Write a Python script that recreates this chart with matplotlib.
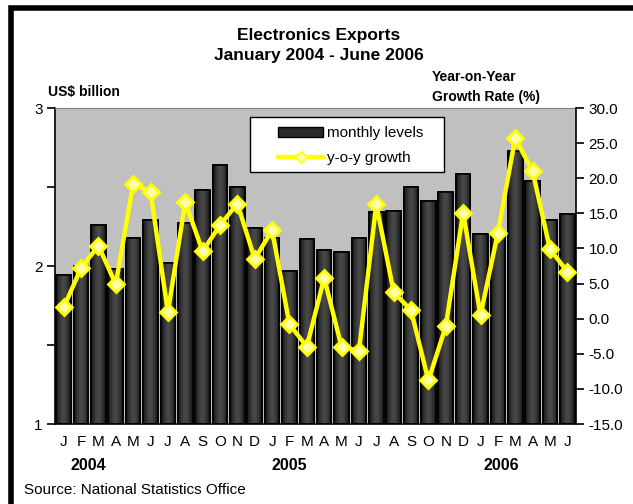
import numpy as np
import matplotlib.pyplot as plt
from matplotlib.lines import Line2D
from matplotlib.patches import Rectangle

plt.rcParams['font.family'] = ['Liberation Sans', 'DejaVu Sans']

# data
months = ['J', 'F', 'M', 'A', 'M', 'J', 'J', 'A', 'S', 'O', 'N', 'D'] * 2 + ['J', 'F', 'M', 'A', 'M', 'J']
years = ['2004', '2005', '2006']
year_pos = [1.4, 13.0, 25.2]
levels = [1.94, 2.00, 2.26, 1.98, 2.18, 2.29, 2.02, 2.27, 2.48, 2.64, 2.50, 2.24,
          2.18, 1.97, 2.17, 2.10, 2.09, 2.18, 2.34, 2.35, 2.50, 2.41, 2.47, 2.58,
          2.20, 2.21, 2.73, 2.54, 2.29, 2.33]
growth = [1.6, 7.2, 10.4, 4.9, 19.2, 18.1, 0.9, 16.6, 9.6, 13.3, 16.4, 8.5,
          12.6, -0.8, -4.0, 5.8, -4.0, -4.6, 16.3, 3.8, 1.2, -8.8, -1.1, 15.1,
          0.5, 12.2, 25.7, 21.0, 9.9, 6.7]

x = np.arange(len(levels))

fig = plt.figure(figsize=(6.33, 5.04), dpi=100)
ax = fig.add_axes([0.0869, 0.1587, 0.8231, 0.627])
ax.set_facecolor('#c0c0c0')

bars = ax.bar(x, np.array(levels) - 1, bottom=1, width=0.84, color='#333333',
              edgecolor='black', linewidth=1.2, zorder=2)

# horizontal shading inside each bar
grad = np.array([[0.10, 0.15, 0.20, 0.24, 0.27, 0.29, 0.27, 0.24, 0.20, 0.15, 0.10]])
for b in bars:
    im = ax.imshow(grad, cmap='gray', vmin=0, vmax=1, aspect='auto',
                   extent=[b.get_x(), b.get_x() + b.get_width(), b.get_y(), b.get_y() + b.get_height()],
                   zorder=2.5, interpolation='bicubic')
    im.set_clip_path(b)
    edge = Rectangle((b.get_x(), b.get_y()), b.get_width(), b.get_height(), fill=False,
                     edgecolor='black', linewidth=1.2, zorder=2.6)
    ax.add_patch(edge)

ax.set_xlim(-0.5, len(levels) - 0.5)
ax.set_ylim(1, 3)
ax.set_yticks([1, 2, 3])
ax.set_yticks([1.5, 2.5], minor=True)
ax.set_xticks(x)
ax.set_xticklabels(months, fontsize=11)
ax.tick_params(axis='x', length=0, pad=8)
ax.tick_params(axis='y', which='both', direction='out', length=6, width=1.2, labelsize=11, pad=3)
ax.spines['top'].set_color('#808080')
ax.spines['right'].set_visible(False)
for s in ['left', 'bottom']:
    ax.spines[s].set_linewidth(1.2)

ax2 = ax.twinx()
ax2.plot(x, growth, color='#ffff00', linewidth=3.2, marker='D', markersize=8,
         markerfacecolor='#ffffa8', markeredgecolor='#ffff00', markeredgewidth=2, zorder=3)
ax2.set_ylim(-15, 30)
ax2.set_yticks(np.arange(-15, 31, 5))
ax2.set_yticklabels([f'{v:.1f}' for v in np.arange(-15, 31, 5)])
ax2.tick_params(axis='y', direction='out', length=6, width=1.2, labelsize=11, pad=3)
ax2.spines['right'].set_linewidth(1.2)
for s in ['top', 'left', 'bottom']:
    ax2.spines[s].set_visible(False)

# legend box drawn separately so the padding matches the original
ax2.add_patch(Rectangle((0.374, 0.797), 0.373, 0.175, transform=ax2.transAxes,
                        facecolor='white', edgecolor='black', linewidth=1.0, zorder=4))
handles = [Rectangle((0, 0), 1, 1, facecolor='#2a2a2a', edgecolor='black'),
           Line2D([], [], color='#ffff00', linewidth=3.2, marker='D', markersize=6,
                  markerfacecolor='#ffffa8', markeredgecolor='#ffff00')]
leg = ax2.legend(handles, ['monthly levels', 'y-o-y growth'], loc='upper left',
                 bbox_to_anchor=(0.428, 0.942), fontsize=11, frameon=False,
                 handlelength=2.95, handletextpad=0.25, borderpad=0,
                 labelspacing=0.7, borderaxespad=0)
leg.set_zorder(5)

for yr, pos in zip(years, year_pos):
    ax.text(pos, -0.13, yr, transform=ax.get_xaxis_transform(), ha='center', va='center',
            fontsize=11.5, fontweight='bold')

fig.text(0.503, 0.929, 'Electronics Exports', ha='center', va='center', fontsize=12.5, fontweight='bold')
fig.text(0.503, 0.889, 'January 2004 - June 2006', ha='center', va='center', fontsize=12.5, fontweight='bold')
fig.text(0.076, 0.817, 'US$ billion', ha='left', va='center', fontsize=10, fontweight='bold')
fig.text(0.682, 0.847, 'Year-on-Year', ha='left', va='center', fontsize=10, fontweight='bold')
fig.text(0.682, 0.808, 'Growth Rate (%)', ha='left', va='center', fontsize=10, fontweight='bold')
fig.text(0.038, 0.028, 'Source: National Statistics Office', ha='left', va='center', fontsize=11)

# outer frame (right/bottom sides fall outside the image)
fig.add_artist(Rectangle((0.0166, -0.1), 1.2, 1.085, transform=fig.transFigure, fill=False,
                         edgecolor='black', linewidth=4))

fig.savefig('out.png', dpi=100)
